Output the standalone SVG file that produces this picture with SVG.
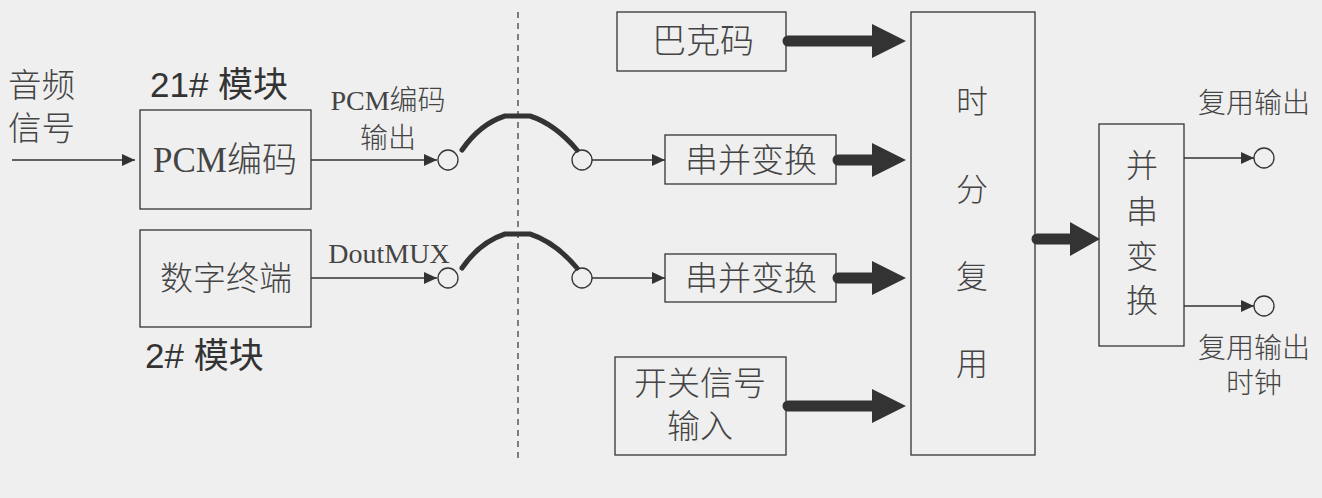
<svg xmlns="http://www.w3.org/2000/svg" width="1322" height="498" viewBox="0 0 1322 498">
<defs>
<style>
.box{fill:none;stroke:#333;stroke-width:1.3}
.t{font-family:"Liberation Serif","Noto Sans CJK SC",serif;fill:#444;text-anchor:middle;font-weight:300}
.s{font-family:"Liberation Sans","Noto Sans CJK SC",sans-serif;fill:#333}
.thin{stroke:#333;stroke-width:1.3;fill:none}
.thick{stroke:#333;stroke-width:11;stroke-linecap:round;fill:none}
.arc{stroke:#333;stroke-width:5;fill:none;stroke-linecap:round}
.c{fill:#efefef;stroke:#333;stroke-width:1.3}
.ah{fill:#333}
</style>
<marker id="a" markerWidth="14" markerHeight="12" refX="13" refY="6" orient="auto" markerUnits="userSpaceOnUse"><path d="M0,0 L13,6 L0,12 z" fill="#333"/></marker>
</defs>
<rect width="1322" height="498" fill="#efefef"/>
<line x1="518" y1="12" x2="518" y2="458" stroke="#333" stroke-width="1.2" stroke-dasharray="6,5"/>
<text class="t" x="8" y="97" font-size="33.5" style="text-anchor:start">音频</text>
<text class="t" x="8" y="140" font-size="33.5" style="text-anchor:start">信号</text>
<g id="n_pcm"><rect class="box" x="140" y="110" width="171" height="99"/><text class="t" x="225" y="172" font-size="35">PCM编码</text></g>
<text class="s" x="150" y="97" font-size="35">21# 模块</text>
<g id="n_dt"><rect class="box" x="140" y="230" width="171" height="97"/><text class="t" x="226" y="290" font-size="33">数字终端</text></g>
<text class="s" x="145" y="368" font-size="35">2# 模块</text>
<text class="t" x="388" y="110" font-size="28">PCM编码</text>
<text class="t" x="388" y="148" font-size="28">输出</text>
<text class="t" x="389" y="263" font-size="28">DoutMUX</text>
<g id="n_bk"><rect class="box" x="617" y="12" width="169" height="59"/><text class="t" x="703" y="53" font-size="34">巴克码</text></g>
<g id="n_sp1"><rect class="box" x="665" y="135" width="171" height="49"/><text class="t" x="751" y="172" font-size="33">串并变换</text></g>
<g id="n_sp2"><rect class="box" x="665" y="254" width="171" height="48"/><text class="t" x="751" y="290" font-size="33">串并变换</text></g>
<g id="n_sw"><rect class="box" x="615" y="357" width="171" height="98"/><text class="t" x="700" y="395" font-size="33">开关信号</text><text class="t" x="700" y="438" font-size="33">输入</text></g>
<g id="n_tdm"><rect class="box" x="911" y="12" width="124" height="443"/>
<text class="t" x="972" y="113" font-size="32">时</text><text class="t" x="972" y="201" font-size="32">分</text><text class="t" x="972" y="288" font-size="32">复</text><text class="t" x="972" y="375" font-size="32">用</text></g>
<g id="n_ps"><rect class="box" x="1099" y="124" width="85" height="222"/>
<text class="t" x="1142" y="177" font-size="32">并</text><text class="t" x="1142" y="223" font-size="32">串</text><text class="t" x="1142" y="268" font-size="32">变</text><text class="t" x="1142" y="312" font-size="32">换</text></g>
<text class="t" x="1254" y="113" font-size="28">复用输出</text>
<text class="t" x="1254" y="358" font-size="28">复用输出</text>
<text class="t" x="1254" y="393" font-size="28">时钟</text>
<g id="connectors">
<line class="thin" x1="12" y1="160" x2="135" y2="160" marker-end="url(#a)"/>
<line class="thin" x1="311" y1="160" x2="437" y2="160" marker-end="url(#a)"/>
<line class="thin" x1="311" y1="278" x2="437" y2="278" marker-end="url(#a)"/>
<circle class="c" cx="448" cy="160" r="10"/><circle class="c" cx="582" cy="160" r="10"/>
<circle class="c" cx="448" cy="278" r="10"/><circle class="c" cx="582" cy="278" r="10"/>
<path class="arc" d="M462,150 Q480,124 505,116 L530,116 Q555,124 577,150"/>
<path class="arc" d="M462,268 Q480,242 505,234 L530,234 Q555,242 577,268"/>
<line class="thin" x1="592" y1="160" x2="665" y2="160" marker-end="url(#a)"/>
<line class="thin" x1="592" y1="278" x2="665" y2="278" marker-end="url(#a)"/>
<line class="thick" x1="788" y1="41" x2="876" y2="41"/><path class="ah" d="M872,24 L906,41 L872,58 z"/>
<line class="thick" x1="838" y1="160" x2="876" y2="160"/><path class="ah" d="M872,143 L906,160 L872,177 z"/>
<line class="thick" x1="838" y1="278" x2="876" y2="278"/><path class="ah" d="M872,261 L906,278 L872,295 z"/>
<line class="thick" x1="788" y1="406" x2="876" y2="406"/><path class="ah" d="M872,389 L906,406 L872,423 z"/>
<line class="thick" x1="1037" y1="239" x2="1074" y2="239"/><path class="ah" d="M1070,222 L1100,239 L1070,256 z"/>
<line class="thin" x1="1184" y1="158" x2="1254" y2="158" marker-end="url(#a)"/>
<line class="thin" x1="1184" y1="306" x2="1254" y2="306" marker-end="url(#a)"/>
<circle class="c" cx="1264" cy="158" r="10"/><circle class="c" cx="1264" cy="306" r="10"/>
</g>
</svg>
